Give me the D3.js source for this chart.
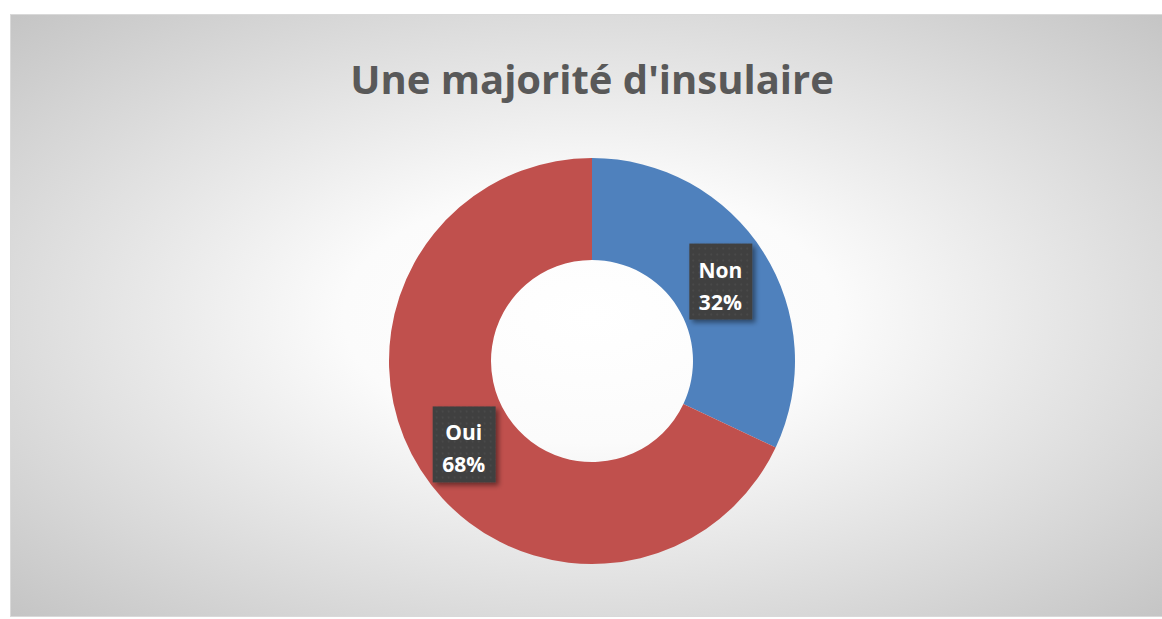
<!DOCTYPE html>
<html>
<head>
<meta charset="utf-8">
<script src="https://cdn.jsdelivr.net/npm/d3@7"></script>
<style>
  body { margin: 0; background: #fff; }
  text { font-family: "Open Sans", "Noto Sans", sans-serif; }
</style>
</head>
<body>
<div id="vis"></div>
<script>
let W = 1162;
let H = 619;

// Chart data
let title = "Une majorité d'insulaire";
let categories = ['Non', 'Oui'];
let values = [32, 68];
let colors = ['#4F81BD', '#C0504D'];

let svg = d3.select('#vis').append('svg').attr('width', W).attr('height', H);
let defs = svg.append('defs');

// Radial background like the spreadsheet chart area
let grad = defs.append('radialGradient').attr('id', 'bg')
		.attr('cx', '50%').attr('cy', '50%').attr('r', '71%');
grad.append('stop').attr('offset', '0%').attr('stop-color', '#ffffff');
grad.append('stop').attr('offset', '30%').attr('stop-color', '#fbfbfb');
grad.append('stop').attr('offset', '100%').attr('stop-color', '#c4c4c4');

// Dotted pattern for the label boxes
let pat = defs.append('pattern').attr('id', 'dots')
		.attr('width', 6).attr('height', 6).attr('patternUnits', 'userSpaceOnUse');
pat.append('rect').attr('width', 6).attr('height', 6).attr('fill', '#404040');
pat.append('circle').attr('cx', 3).attr('cy', 3).attr('r', 0.9).attr('fill', '#4c4c4c');

let shadow = defs.append('filter').attr('id', 'shadow')
		.attr('x', '-20%').attr('y', '-20%').attr('width', '150%').attr('height', '150%');
shadow.append('feDropShadow').attr('dx', 3).attr('dy', 3).attr('stdDeviation', 2.5)
		.attr('flood-color', '#000').attr('flood-opacity', 0.45);

svg.append('rect')
		.attr('x', 10.5).attr('y', 14.5).attr('width', 1160).attr('height', 602)
		.attr('fill', 'url(#bg)').attr('stroke', '#d9d9d9');

// Title
svg.append('text')
		.attr('x', 592).attr('y', 94)
		.attr('text-anchor', 'middle')
		.attr('font-size', 40).attr('font-weight', 700)
		.attr('fill', '#595959')
		.text(title);

// Donut
let cx = 592, cy = 361, outerR = 203, innerR = 101;
let data = categories.map((c, i) => ({ name: c, value: values[i], color: colors[i] }));
let pie = d3.pie().value(d => d.value).sort(null);
let arc = d3.arc().innerRadius(innerR).outerRadius(outerR);
let arcs = pie(data);

let g = svg.append('g').attr('transform', `translate(${cx},${cy})`);
g.selectAll('path').data(arcs).enter().append('path')
		.attr('d', arc)
		.attr('fill', d => d.data.color);

// Data labels
let total = d3.sum(values);
let labels = g.selectAll('g.label').data(arcs).enter().append('g')
		.attr('class', 'label')
		.attr('transform', d => {
			let c = arc.centroid(d);
			return `translate(${c[0]},${c[1] + 2})`;
		});
labels.append('rect')
		.attr('x', -31).attr('y', -38).attr('width', 63).attr('height', 76)
		.attr('fill', 'url(#dots)').attr('filter', 'url(#shadow)');
labels.append('text')
		.attr('text-anchor', 'middle').attr('y', -4)
		.attr('font-size', 21).attr('font-weight', 700).attr('fill', '#fff')
		.text(d => d.data.name);
labels.append('text')
		.attr('text-anchor', 'middle').attr('y', 28)
		.attr('font-size', 21).attr('font-weight', 700).attr('fill', '#fff')
		.text(d => Math.round(d.data.value / total * 100) + '%');
</script>
</body>
</html>
